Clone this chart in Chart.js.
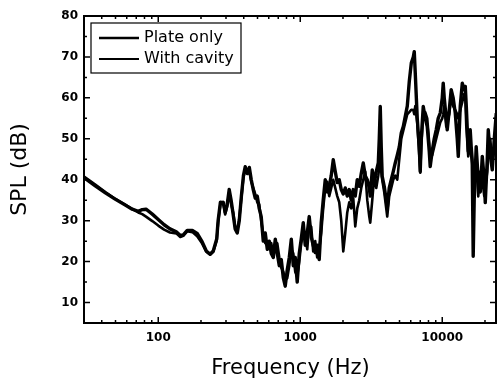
<!DOCTYPE html>
<html>
<head>
<meta charset="utf-8">
<script src="https://cdn.jsdelivr.net/npm/chart.js@4.4.1/dist/chart.umd.min.js"></script>
<style>
  html, body { margin: 0; padding: 0; background: #fff; }
  #wrap { width: 497px; height: 383px; }
</style>
</head>
<body>
<div id="wrap"><canvas id="spl" width="497" height="383"></canvas></div>
<script>
// frequency grid (Hz) shared by both curves
const freqHz = [
  30, 36, 42.4, 50, 58.6, 65.6, 72.3, 77.1, 82, 90.8,
  100, 110, 121, 134, 143, 150, 160, 174, 188, 204,
  218, 232, 244, 258, 264, 274, 287, 296, 306, 316,
  326, 337, 348, 360, 372, 385, 398, 410, 424, 438,
  452, 467, 482, 498, 514, 531, 549, 567, 586, 605,
  625, 646, 667, 689, 712, 735, 760, 784, 810, 837,
  865, 893, 922, 952, 984, 1016, 1050, 1084, 1120, 1157,
  1195, 1234, 1275, 1317, 1360, 1405, 1451, 1500, 1549, 1600,
  1653, 1708, 1764, 1822, 1882, 1944, 2009, 2075, 2143, 2214,
  2287, 2362, 2440, 2520, 2603, 2689, 2778, 2869, 2965, 3062,
  3112, 3215, 3321, 3430, 3544, 3601, 3660, 3719, 3778, 3903,
  4032, 4098, 4233, 4373, 4518, 4667, 4822, 4981, 5145, 5315,
  5491, 5672, 5859, 6053, 6253, 6353, 6457, 6668, 6888, 7000,
  7115, 7350, 7592, 7839, 8097, 8227, 8499, 8777, 9067, 9365,
  9681, 10000, 10160, 10330, 10670, 10840, 11200, 11560, 11940, 12350,
  12750, 12970, 13390, 13840, 14290, 14530, 14770, 15240, 15740, 16000,
  16250, 16520, 16790, 17340, 17930, 18520, 19140, 19770, 20090, 20750,
  21090, 21790, 22510, 23250, 24020
];

// SPL (dB), plate only
const plateOnly = [
  40.5, 38.5, 36.8, 35.2, 33.8, 32.8, 32.3, 32.7, 32.8, 31.6,
  30.3, 29, 28, 27.3, 26.4, 26.5, 27.6, 27.6, 26.9, 24.8,
  22.6, 21.8, 22.6, 25.5, 30, 34.5, 34.4, 32, 34, 37.6,
  35, 31.5, 28, 27, 30, 36, 41, 43.2, 41.5, 43,
  40, 37.5, 35.5, 36, 33, 31, 25, 27, 23, 25,
  22, 21, 25.5, 22, 19, 20.5, 16, 14, 18, 21,
  25.5, 19, 21, 15, 22, 25.5, 29.5, 24, 27, 31,
  26, 24, 22.2, 24, 20.5, 29.5, 35, 40, 37, 38.4,
  41, 44.9, 42, 39.3, 40, 37.6, 36.5, 38, 36, 37.6,
  35, 37.6, 36, 40, 38.4, 41.5, 44.1, 41, 40, 38,
  36, 42.4, 39, 42, 44.1, 50, 57.9, 48, 40.8, 38.4,
  35, 33, 38, 40, 42, 44.1, 46, 48, 51.4, 53,
  55.5, 58, 64, 68.5, 70, 71.3, 66, 55, 48, 42,
  50, 57.9, 55, 53, 47, 43.2, 47, 50, 52.2, 55,
  56.3, 60, 63.6, 60, 55, 52.2, 57, 62, 60, 56.3,
  50, 45.7, 58, 63.6, 62, 62.8, 58, 47, 52.2, 48,
  45, 21.3, 35, 48.1, 40, 37, 45.7, 40, 34.4, 45,
  52.2, 46, 42.4, 50, 56.3
];

// SPL (dB), with cavity
const withCavity = [
  40.8, 38.8, 37, 35.3, 33.9, 32.8, 32.0, 31.6, 31.0, 29.9,
  28.8, 27.8, 27.1, 26.9, 26.0, 26.3, 27.4, 27.2, 26.2, 24.4,
  22.4, 21.7, 22.4, 25.2, 29.5, 34.0, 34.6, 31.5, 33.5, 37,
  34, 32, 28.5, 27.5, 30.5, 35.5, 40.5, 42.5, 42.5, 42,
  39.5, 38, 36.5, 34.5, 34, 30, 26.5, 24.5, 24, 23.5,
  24.5, 22, 23, 24.5, 21, 18.5, 17.5, 15.5, 16, 19,
  23, 22, 17.5, 16.5, 20, 24.5, 27, 26.5, 23, 29,
  28.5, 22.5, 25, 21, 23, 27, 33, 38, 39.5, 36,
  38, 40, 38, 36, 34.5, 30, 22.5, 27, 32, 34.5,
  33, 35.5, 28.6, 33, 35, 38, 40, 42, 35, 31,
  29.5, 35, 41, 38, 41, 43, 44, 42, 40, 37,
  33, 31, 36, 38, 40, 41, 40, 45, 50, 52,
  54, 56, 56.5, 57.1, 57, 56, 58, 53.9, 46, 41.7,
  48, 56, 56.5, 55, 49, 45, 46, 48, 50, 52,
  54, 55, 56, 58, 53, 54, 56, 60.3, 58, 57,
  56, 55, 57, 59, 61, 60, 53, 45.7, 50, 45.7,
  44, 40, 42, 44, 35.9, 42, 40, 36, 38, 42,
  46, 50, 44, 48, 52
];

const seriesNames = ['Plate only', 'With cavity'];
const xLabelTicks = [100, 1000, 10000];
const yLabelTicks = [10, 20, 30, 40, 50, 60, 70, 80];

const toPoints = (ys) => freqHz.map((f, i) => ({ x: f, y: ys[i] }));

// box, inward ticks on all four sides and the legend box
const frameAndLegend = {
  id: 'frameAndLegend',
  afterDatasetsDraw(chart) {
    const { ctx, chartArea: a, scales: { x, y } } = chart;
    ctx.save();
    ctx.strokeStyle = '#000';
    ctx.lineWidth = 2;
    ctx.strokeRect(a.left, a.top, a.right - a.left - 1, a.bottom - a.top);

    ctx.lineWidth = 1.5;
    ctx.beginPath();
    for (let d = 10; d <= 10000; d *= 10) {
      for (let m = 1; m <= 9; m++) {
        const v = m * d;
        if (v < x.min || v > x.max) continue;
        const px = x.getPixelForValue(v);
        const len = m === 1 ? 6 : 3;
        ctx.moveTo(px, a.bottom); ctx.lineTo(px, a.bottom - len);
        ctx.moveTo(px, a.top); ctx.lineTo(px, a.top + len);
      }
    }
    for (let v = 10; v < 80; v += 5) {
      const py = y.getPixelForValue(v);
      const len = v % 10 === 0 ? 6 : 3;
      ctx.moveTo(a.left, py); ctx.lineTo(a.left + len, py);
      ctx.moveTo(a.right - 1, py); ctx.lineTo(a.right - 1 - len, py);
    }
    ctx.stroke();

    // legend
    const bx = a.left + 7, by = a.top + 7, bw = 150, bh = 50;
    ctx.fillStyle = '#fff';
    ctx.fillRect(bx, by, bw, bh);
    ctx.lineWidth = 1.2;
    ctx.strokeRect(bx, by, bw, bh);
    ctx.font = '16px "DejaVu Sans"';
    ctx.textBaseline = 'middle';
    ctx.fillStyle = '#000';
    chart.data.datasets.forEach((ds, i) => {
      const ly = by + 15 + i * 21;
      ctx.lineWidth = ds.borderWidth * 0.75;
      ctx.beginPath();
      ctx.moveTo(bx + 8, ly); ctx.lineTo(bx + 48, ly);
      ctx.stroke();
      ctx.fillText(ds.label, bx + 53, ly);
    });
    ctx.restore();
  },
};

new Chart(document.getElementById('spl'), {
  type: 'line',
  data: {
    datasets: [
      { label: seriesNames[0], data: toPoints(plateOnly), borderColor: '#000', borderWidth: 3.4 },
      { label: seriesNames[1], data: toPoints(withCavity), borderColor: '#000', borderWidth: 2.6 },
    ],
  },
  options: {
    responsive: false,
    animation: false,
    layout: { padding: { top: 16, right: 0, bottom: 0, left: 0 } },
    elements: {
      point: { radius: 0 },
      line: { tension: 0, borderJoinStyle: 'round', fill: false },
    },
    plugins: { legend: { display: false }, tooltip: { enabled: false } },
    scales: {
      x: {
        type: 'logarithmic',
        min: 30,
        max: 24300,
        grid: { display: false, drawTicks: false },
        border: { display: false },
        afterBuildTicks: (s) => { s.ticks = xLabelTicks.map((v) => ({ value: v })); },
        afterFit: (s) => { s.height = 60; },
        ticks: {
          autoSkip: false,
          maxRotation: 0,
          padding: 8,
          color: '#000',
          font: { family: 'DejaVu Sans', size: 12, weight: 'bold' },
          callback: (v) => String(v),
        },
        title: {
          display: true,
          text: 'Frequency (Hz)',
          color: '#000',
          font: { family: 'DejaVu Sans', size: 21 },
          padding: { top: 0, bottom: 2 },
        },
      },
      y: {
        min: 5,
        max: 80,
        grid: { display: false, drawTicks: false },
        border: { display: false },
        afterBuildTicks: (s) => { s.ticks = yLabelTicks.map((v) => ({ value: v })); },
        afterFit: (s) => { s.width = 84; },
        ticks: {
          padding: 6,
          color: '#000',
          font: { family: 'DejaVu Sans', size: 12, weight: 'bold' },
        },
        title: {
          display: true,
          text: 'SPL (dB)',
          color: '#000',
          font: { family: 'DejaVu Sans', size: 22 },
          padding: { top: 7, bottom: 0 },
        },
      },
    },
  },
  plugins: [frameAndLegend],
});
</script>
</body>
</html>
